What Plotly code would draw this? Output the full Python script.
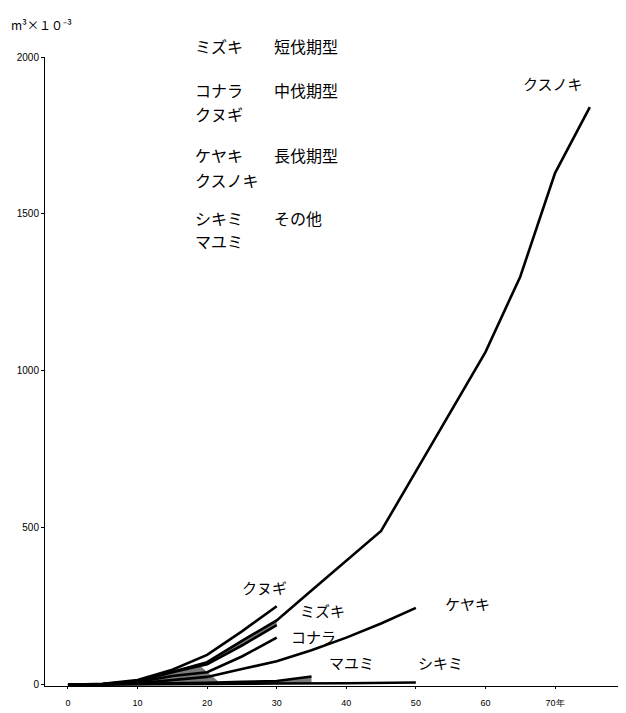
import numpy as np
import plotly.graph_objects as go

# ---- data ----
years_kusunoki = [0, 5, 10, 15, 20, 25, 30, 35, 40, 45, 50, 55, 60, 65, 70, 75]
kusunoki = [0, 2, 10, 40, 72, 140, 205, 300, 395, 490, 680, 870, 1060, 1300, 1630, 1840]

years_30 = [0, 5, 10, 15, 20, 25, 30]
kunugi = [0, 3, 15, 48, 95, 170, 250]
mizuki = [0, 2, 12, 40, 65, 125, 190]
konara = [0, 1, 8, 28, 40, 90, 150]

years_keyaki = [0, 5, 10, 15, 20, 25, 30, 35, 40, 45, 50]
keyaki = [0, 1, 5, 14, 25, 50, 75, 110, 150, 195, 245]

years_mayumi = [0, 5, 10, 15, 20, 25, 30, 35]
mayumi = [0, 1, 2, 4, 6, 9, 12, 26]

years_shikimi = [0, 10, 20, 30, 40, 50]
shikimi = [0, 2, 3, 4, 5, 7]

x_tickvals = [0, 10, 20, 30, 40, 50, 60, 70]
x_ticktext = ["0", "10", "20", "30", "40", "50", "60", "70年"]
y_tickvals = [0, 500, 1000, 1500, 2000]
y_ticktext = ["0", "500", "1000", "1500", "2000"]

legend_rows = [
    ("ミズキ", "短伐期型"),
    ("コナラ", "中伐期型"),
    ("クヌギ", ""),
    ("ケヤキ", "長伐期型"),
    ("クスノキ", ""),
    ("シキミ", "その他"),
    ("マユミ", ""),
]
# legend row positions (paper fraction of plot height)
legend_y = [1.040, 0.970, 0.932, 0.867, 0.827, 0.767, 0.729]

JP = "Noto Sans CJK JP"
fig = go.Figure()

def band(x_up, x_lo, upper_x, upper_y, lower_x, lower_y):
    xu = np.array(x_up, dtype=float)
    xl = np.array(x_lo, dtype=float)
    up = np.interp(xu, upper_x, upper_y)
    lo = np.interp(xl, lower_x, lower_y)
    return list(xu) + list(xl[::-1]), list(up) + list(lo[::-1])

grey = "#7a7a7a"
for xu, xl, ux, uy, lx, ly in [
    (np.linspace(6, 19, 12), np.linspace(6, 22, 12), years_30, mizuki, years_shikimi, shikimi),
    (np.linspace(17, 30, 10), np.linspace(17, 30, 10), years_kusunoki, kusunoki, years_30, mizuki),
    (np.linspace(19, 35, 10), np.linspace(19, 35, 10), years_mayumi, mayumi, years_shikimi, shikimi),
]:
    bx, by = band(xu, xl, ux, uy, lx, ly)
    fig.add_trace(go.Scatter(x=bx, y=by, fill="toself", mode="none",
                             fillcolor=grey, hoverinfo="skip", showlegend=False))

line = dict(color="black", width=2.6)
for xs, ys in [
    (years_kusunoki, kusunoki),
    (years_30, kunugi),
    (years_30, mizuki),
    (years_30, konara),
    (years_keyaki, keyaki),
    (years_mayumi, mayumi),
    (years_shikimi, shikimi),
]:
    fig.add_trace(go.Scatter(x=xs, y=ys, mode="lines", line=line, showlegend=False))

labels = [
    ("クスノキ", 69.7, 1917),
    ("クヌギ", 28.3, 309),
    ("ミズキ", 36.6, 236),
    ("コナラ", 35.3, 153),
    ("ケヤキ", 57.4, 258),
    ("マユミ", 40.7, 70),
    ("シキミ", 53.6, 70),
]
for t, x, y in labels:
    fig.add_annotation(x=x, y=y, text=t, showarrow=False,
                       font=dict(family=JP, size=15, color="black"))

for (a, b), y in zip(legend_rows, legend_y):
    fig.add_annotation(x=18.0, xref="x", y=y, yref="paper", text=a, showarrow=False,
                       xanchor="left", font=dict(family=JP, size=16, color="black"))
    if b:
        fig.add_annotation(x=29.3, xref="x", y=y, yref="paper", text=b, showarrow=False,
                           xanchor="left", font=dict(family=JP, size=16, color="black"))

fig.add_annotation(x=-0.062, xref="paper", y=1.068, yref="paper",
                   text="m³×１０⁻³", showarrow=False, xanchor="left",
                   font=dict(family=JP, size=12, color="black"))

# page body has an 8px margin, so offset the plot area accordingly
fig.update_layout(
    width=626, height=713,
    margin=dict(l=37, r=8, t=49, b=35),
    paper_bgcolor="white", plot_bgcolor="white",
    xaxis=dict(range=[-3.3, 80.2], showgrid=False, zeroline=False,
               showline=True, linecolor="black", linewidth=1,
               tickvals=x_tickvals, ticktext=x_ticktext,
               ticks="outside", ticklen=2, tickcolor="black",
               ticklabelstandoff=6,
               tickfont=dict(family="Liberation Sans", size=9, color="black")),
    yaxis=dict(range=[-4, 2000], showgrid=False, zeroline=False,
               showline=True, linecolor="black", linewidth=1,
               tickvals=y_tickvals, ticktext=y_ticktext,
               ticks="outside", ticklen=3, tickcolor="black",
               tickfont=dict(family="Liberation Sans", size=10, color="black")),
)

fig.write_html("out.html")
